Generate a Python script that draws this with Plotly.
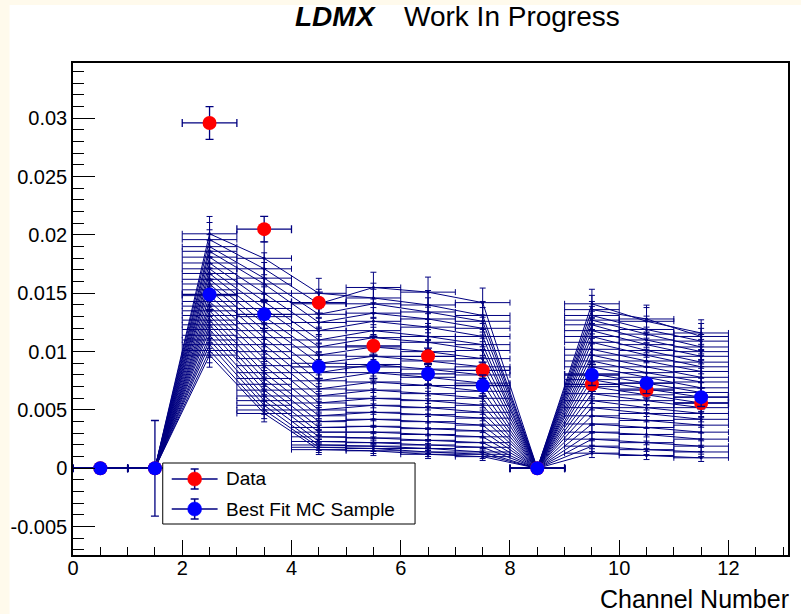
import math
import plotly.graph_objects as go

# ---------------- data ----------------
channels = [0.5, 1.5, 2.5, 3.5, 4.5, 5.5, 6.5, 7.5, 8.5, 9.5, 10.5, 11.5]
bin_half_width = [0.5] * 12

data_values = [0.0, 0.0, 0.0296, 0.0205, 0.0142, 0.0105, 0.0096, 0.0084, 0.0, 0.0072, 0.0067, 0.0056]
data_errors = [0.0, 0.0, 0.0014, 0.0011, 0.0009, 0.0008, 0.0007, 0.0007, 0.0001, 0.0006, 0.0006, 0.0005]

best_fit_values = [0.0, 0.0, 0.0149, 0.0132, 0.0087, 0.0087, 0.0081, 0.0071, 0.0, 0.0080, 0.0073, 0.0061]
best_fit_errors = [0.0, 0.0041, 0.0013, 0.0012, 0.0010, 0.0010, 0.0009, 0.0009, 0.0, 0.0009, 0.0009, 0.0008]

mc_01 = [0, 0, 0.0201, 0.0180, 0.0150, 0.0146, 0.0140, 0.0131, 0, 0.0141, 0.0126, 0.0116]
mc_02 = [0, 0, 0.0196, 0.0171, 0.0141, 0.0155, 0.0151, 0.0142, 0, 0.0136, 0.0128, 0.0113]
mc_03 = [0, 0, 0.0190, 0.0163, 0.0132, 0.0141, 0.0134, 0.0126, 0, 0.0131, 0.0119, 0.0109]
mc_04 = [0, 0, 0.0186, 0.0158, 0.0125, 0.0133, 0.0128, 0.0120, 0, 0.0127, 0.0115, 0.0104]
mc_05 = [0, 0, 0.0181, 0.0150, 0.0118, 0.0126, 0.0121, 0.0113, 0, 0.0123, 0.0110, 0.0100]
mc_06 = [0, 0, 0.0176, 0.0143, 0.0110, 0.0118, 0.0113, 0.0106, 0, 0.0118, 0.0106, 0.0096]
mc_07 = [0, 0, 0.0171, 0.0137, 0.0104, 0.0112, 0.0108, 0.0101, 0, 0.0113, 0.0101, 0.0091]
mc_08 = [0, 0, 0.0167, 0.0130, 0.0097, 0.0104, 0.0100, 0.0094, 0, 0.0108, 0.0097, 0.0087]
mc_09 = [0, 0, 0.0162, 0.0124, 0.0090, 0.0096, 0.0092, 0.0087, 0, 0.0102, 0.0092, 0.0083]
mc_10 = [0, 0, 0.0158, 0.0118, 0.0082, 0.0089, 0.0085, 0.0080, 0, 0.0097, 0.0087, 0.0078]
mc_11 = [0, 0, 0.0153, 0.0112, 0.0075, 0.0082, 0.0078, 0.0073, 0, 0.0092, 0.0082, 0.0074]
mc_12 = [0, 0, 0.0148, 0.0106, 0.0068, 0.0074, 0.0071, 0.0066, 0, 0.0087, 0.0078, 0.0069]
mc_13 = [0, 0, 0.0143, 0.0100, 0.0062, 0.0067, 0.0064, 0.0060, 0, 0.0081, 0.0073, 0.0065]
mc_14 = [0, 0, 0.0139, 0.0094, 0.0056, 0.0060, 0.0058, 0.0054, 0, 0.0076, 0.0068, 0.0061]
mc_15 = [0, 0, 0.0135, 0.0088, 0.0050, 0.0054, 0.0052, 0.0048, 0, 0.0070, 0.0063, 0.0056]
mc_16 = [0, 0, 0.0131, 0.0082, 0.0045, 0.0048, 0.0046, 0.0043, 0, 0.0064, 0.0058, 0.0052]
mc_17 = [0, 0, 0.0127, 0.0077, 0.0040, 0.0042, 0.0040, 0.0037, 0, 0.0058, 0.0052, 0.0047]
mc_18 = [0, 0, 0.0123, 0.0072, 0.0035, 0.0036, 0.0034, 0.0032, 0, 0.0052, 0.0047, 0.0042]
mc_19 = [0, 0, 0.0119, 0.0067, 0.0031, 0.0031, 0.0029, 0.0027, 0, 0.0045, 0.0041, 0.0037]
mc_20 = [0, 0, 0.0114, 0.0062, 0.0027, 0.0026, 0.0024, 0.0022, 0, 0.0038, 0.0035, 0.0031]
mc_21 = [0, 0, 0.0110, 0.0058, 0.0023, 0.0022, 0.0020, 0.0018, 0, 0.0031, 0.0029, 0.0025]
mc_22 = [0, 0, 0.0106, 0.0054, 0.0020, 0.0019, 0.0017, 0.0014, 0, 0.0025, 0.0022, 0.0019]
mc_23 = [0, 0, 0.0101, 0.0050, 0.0018, 0.0017, 0.0014, 0.0012, 0, 0.0019, 0.0016, 0.0014]
mc_24 = [0, 0, 0.0097, 0.0047, 0.0016, 0.0015, 0.0012, 0.0010, 0, 0.0013, 0.0011, 0.0009]

mc_stat_scale = 1.1e-4  # statistical uncertainty ~ sqrt(value * scale)

x_tick_vals = [0, 2, 4, 6, 8, 10, 12]
x_tick_text = ["0", "2", "4", "6", "8", "10", "12"]
y_tick_vals = [-0.005, 0, 0.005, 0.01, 0.015, 0.02, 0.025, 0.03]
y_tick_text = ["-0.005", "0", "0.005", "0.01", "0.015", "0.02", "0.025", "0.03"]

legend_labels = ["Data", "Best Fit MC Sample"]

# ---------------- style ----------------
NAVY = "#000080"
RED = "#ff0000"
BLUE = "#0000ff"
FONT = "Liberation Sans, Arial, Helvetica, sans-serif"

mc_samples = [mc_01, mc_02, mc_03, mc_04, mc_05, mc_06, mc_07, mc_08, mc_09, mc_10, mc_11, mc_12,
              mc_13, mc_14, mc_15, mc_16, mc_17, mc_18, mc_19, mc_20, mc_21, mc_22, mc_23, mc_24]

fig = go.Figure()

for sample in mc_samples:
    errs = [math.sqrt(v * mc_stat_scale) if v > 0 else 0.0 for v in sample]
    fig.add_trace(go.Scatter(
        x=channels, y=sample, mode="lines+markers",
        line=dict(color=NAVY, width=1),
        marker=dict(color=NAVY, size=3),
        error_x=dict(type="data", array=bin_half_width, color=NAVY, thickness=1, width=3),
        error_y=dict(type="data", array=errs, color=NAVY, thickness=1, width=3),
        showlegend=False, hoverinfo="skip",
    ))

fig.add_trace(go.Scatter(
    x=channels, y=data_values, mode="markers",
    marker=dict(color=RED, size=14),
    error_x=dict(type="data", array=bin_half_width, color=NAVY, thickness=1.3, width=4),
    error_y=dict(type="data", array=data_errors, color=NAVY, thickness=1.3, width=4),
    showlegend=False, name=legend_labels[0],
))
fig.add_trace(go.Scatter(
    x=channels, y=best_fit_values, mode="markers",
    marker=dict(color=BLUE, size=14),
    error_x=dict(type="data", array=bin_half_width, color=NAVY, thickness=1.3, width=4),
    error_y=dict(type="data", array=best_fit_errors, color=NAVY, thickness=1.3, width=4),
    showlegend=False, name=legend_labels[1],
))

# ---------------- ROOT-style legend box (drawn in paper coords) ----------------
PLOT_L, PLOT_R, PLOT_T, PLOT_B = 73, 790, 63, 555


def px(xp):
    return (xp - PLOT_L) / (PLOT_R - PLOT_L)


def py(yp):
    return (PLOT_B - yp) / (PLOT_B - PLOT_T)


shapes = [
    dict(type="rect", xref="paper", yref="paper", x0=-0.0888, x1=1.02, y0=-0.125, y1=1.118,
         fillcolor="white", line=dict(width=0), layer="below"),
    dict(type="rect", xref="paper", yref="paper", x0=px(163), x1=px(416), y0=py(524), y1=py(463),
         fillcolor="white", line=dict(color="black", width=1), layer="above"),
]
annotations = []
for label, color, row_y in zip(legend_labels, [RED, BLUE], [479, 509]):
    yc = py(row_y)
    shapes.append(dict(type="line", xref="paper", yref="paper", x0=px(172), x1=px(218), y0=yc, y1=yc,
                       line=dict(color=NAVY, width=1.5), layer="above"))
    shapes.append(dict(type="line", xref="paper", yref="paper", xsizemode="pixel", ysizemode="pixel",
                       xanchor=px(195), yanchor=yc, x0=0, x1=0, y0=-10, y1=10,
                       line=dict(color=NAVY, width=1.5), layer="above"))
    for dy in (-10, 10):
        shapes.append(dict(type="line", xref="paper", yref="paper", xsizemode="pixel", ysizemode="pixel",
                           xanchor=px(195), yanchor=yc, x0=-4, x1=4, y0=dy, y1=dy,
                           line=dict(color=NAVY, width=1.5), layer="above"))
    shapes.append(dict(type="circle", xref="paper", yref="paper", xsizemode="pixel", ysizemode="pixel",
                       xanchor=px(195), yanchor=yc, x0=-7, x1=7, y0=-7, y1=7,
                       fillcolor=color, line=dict(color=color, width=0.5), layer="above"))
    annotations.append(dict(text=label, xref="paper", yref="paper", x=px(224), y=yc,
                            xanchor="left", yanchor="middle", showarrow=False,
                            font=dict(family=FONT, size=19, color="black")))

annotations += [
    dict(text="<b><i>LDMX</i></b>", xref="paper", yref="paper", x=px(380), y=py(17),
         xanchor="right", yanchor="middle", showarrow=False,
         font=dict(family=FONT, size=28, color="black")),
    dict(text="Work In Progress", xref="paper", yref="paper", x=px(403), y=py(17),
         xanchor="left", yanchor="middle", showarrow=False,
         font=dict(family=FONT, size=28, color="black")),
    dict(text="Channel Number", xref="paper", yref="paper", x=px(793), y=py(599),
         xanchor="right", yanchor="middle", showarrow=False,
         font=dict(family=FONT, size=25, color="black")),
]

axis_common = dict(showline=True, linecolor="black", linewidth=1.5, mirror=True,
                   showgrid=False, zeroline=False, ticks="inside", tickcolor="black",
                   tickwidth=1, tickfont=dict(family=FONT, size=20, color="black"))

fig.update_layout(
    width=801, height=614,
    margin=dict(l=PLOT_L, r=801 - PLOT_R, t=PLOT_T, b=614 - PLOT_B),
    paper_bgcolor="#fffaec", plot_bgcolor="white",
    font=dict(family=FONT, color="black"),
    showlegend=False,
    xaxis=dict(range=[0, 13.09], tickvals=x_tick_vals, ticktext=x_tick_text, ticklen=15,
               ticklabelstandoff=-6,
               minor=dict(dtick=0.5, tick0=0, ticks="inside", ticklen=8, tickcolor="black"),
               **axis_common),
    yaxis=dict(range=[-0.00743, 0.03474], tickvals=y_tick_vals, ticktext=y_tick_text, ticklen=22,
               minor=dict(dtick=0.001, tick0=0, ticks="inside", ticklen=11, tickcolor="black"),
               **axis_common),
    shapes=shapes,
    annotations=annotations,
)

fig.write_html("out.html")
